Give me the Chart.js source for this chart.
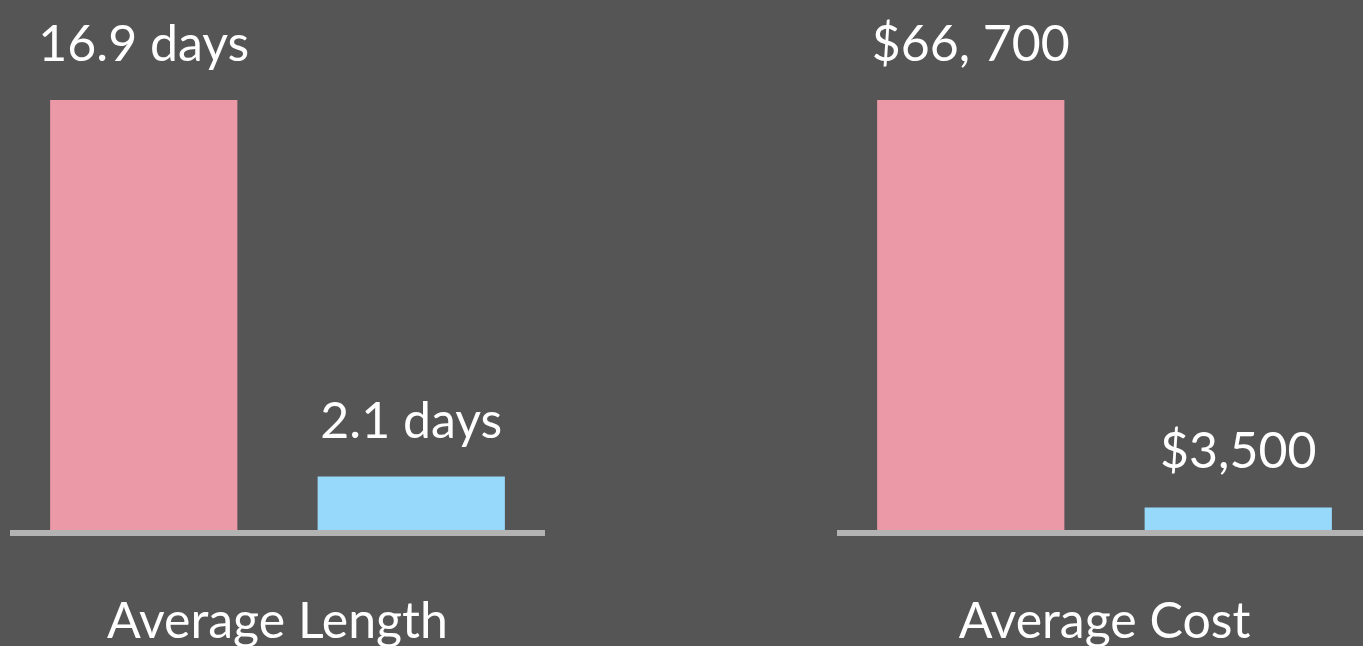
<!DOCTYPE html>
<html>
<head>
<meta charset="utf-8">
<script src="https://cdn.jsdelivr.net/npm/chart.js@4"></script>
<style>
  html, body { margin: 0; padding: 0; background: #555555; overflow: hidden; }
  #wrap { position: relative; width: 1363px; height: 646px; overflow: hidden; }
  canvas { position: absolute; top: 0; }
</style>
</head>
<body>
<div id="wrap">
  <canvas id="length_chart" width="535" height="660" style="left:10px"></canvas>
  <canvas id="cost_chart" width="535" height="660" style="left:837px"></canvas>
</div>
<script>
// the two panels and their bars
const categories = ['Average Length', 'Average Cost'];
const barNames = ['first', 'second'];
const lengthValues = [16.9, 2.1];
const lengthLabels = ['16.9 days', '2.1 days'];
const costValues = [66700, 3500];
const costLabels = ['$66, 700', '$3,500'];
const barColors = ['#EB98A7', '#97D9FA'];

const FONT = 'Lato, "Noto Sans", sans-serif';

// grey baseline under the bars
const baseline = {
    id: 'baseline',
    beforeDatasetsDraw(chart) {
        const { ctx, chartArea } = chart;
        ctx.save();
        ctx.fillStyle = '#B3B3B3';
        ctx.fillRect(chartArea.left, chartArea.bottom, chartArea.right - chartArea.left, 6);
        ctx.restore();
    }
};

// value text above each bar
const barText = {
    id: 'barText',
    afterDatasetsDraw(chart, args, opts) {
        const { ctx } = chart;
        const meta = chart.getDatasetMeta(0);
        ctx.save();
        ctx.fillStyle = '#FFFFFF';
        ctx.font = '50px ' + FONT;
        ctx.textAlign = 'center';
        ctx.textBaseline = 'alphabetic';
        meta.data.forEach((bar, i) => {
            ctx.fillText(opts.labels[i], bar.x, bar.y - 39);
        });
        ctx.restore();
    }
};

function makeChart(id, title, values, labels) {
    const ctx = document.getElementById(id).getContext('2d');
    return new Chart(ctx, {
        type: 'bar',
        data: {
            labels: barNames,
            datasets: [{
                data: values,
                backgroundColor: barColors,
                borderWidth: 0,
                barPercentage: 0.7,
                categoryPercentage: 1.0
            }]
        },
        options: {
            responsive: false,
            animation: false,
            layout: { padding: { top: 100, left: 0, right: 0, bottom: 0 } },
            plugins: {
                legend: { display: false },
                tooltip: { enabled: false },
                barText: { labels: labels }
            },
            scales: {
                x: {
                    grid: { display: false, drawTicks: false },
                    border: { display: false },
                    ticks: { display: false },
                    title: {
                        display: true,
                        text: title,
                        color: '#FFFFFF',
                        font: { family: FONT, size: 50, lineHeight: 1.2 },
                        padding: { top: 62, bottom: 8 }
                    }
                },
                y: {
                    display: false,
                    min: 0,
                    max: Math.max(...values)
                }
            }
        },
        plugins: [baseline, barText]
    });
}

makeChart('length_chart', categories[0], lengthValues, lengthLabels);
makeChart('cost_chart', categories[1], costValues, costLabels);
</script>
</body>
</html>
